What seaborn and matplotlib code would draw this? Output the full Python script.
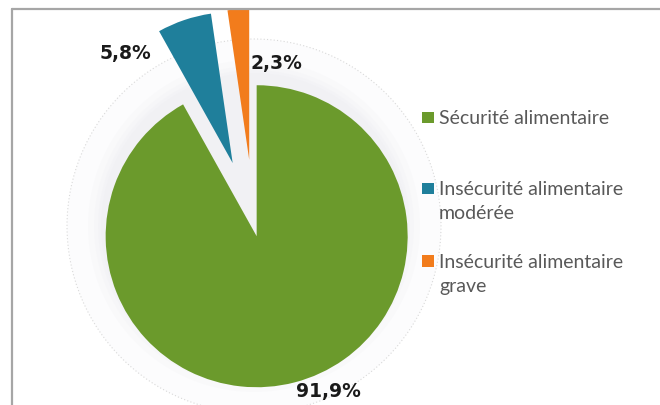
import matplotlib
matplotlib.use("Agg")
import matplotlib.pyplot as plt
import seaborn as sns
from matplotlib.patches import Circle, Rectangle
from matplotlib.lines import Line2D

# ---- data ----
categories = ["Sécurité alimentaire", "Insécurité alimentaire\nmodérée", "Insécurité alimentaire\ngrave"]
values = [91.9, 5.8, 2.3]
pct_labels = ["91,9%", "5,8%", "2,3%"]

# ---- style ----
sns.set_theme(style="white")
colors = sns.color_palette(["#6b9a2c", "#1f7f9b", "#f27c1c"])
W, H = 660, 406

fig = plt.figure(figsize=(W / 100, H / 100), dpi=100)
fig.patch.set_facecolor("white")
ax = fig.add_axes([0, 0, 1, 1])

cx, cy, R = 254, H - 227, 151
explode_frac = [0.07, 0.44, 0.44]

# soft halo + dotted ghost circle
ax.add_patch(Circle((cx, cy), 187, facecolor="#fcfcfd", edgecolor="#d9d9d9",
                    linestyle=(0, (1, 2)), linewidth=0.8, zorder=0))
for r in [166, 160, 156, 153]:
    ax.add_patch(Circle((cx, cy), r, facecolor="#e2e2e8", alpha=0.1,
                        edgecolor="none", zorder=0.2))

ax.pie(values, explode=[f * R for f in explode_frac], colors=colors, startangle=90,
       counterclock=False, center=(cx, cy), radius=R,
       wedgeprops=dict(linewidth=0), frame=False)

ax.set_xlim(0, W)
ax.set_ylim(0, H)
ax.set_aspect("equal")
ax.axis("off")

# percentage labels (layout positions, pixel coords from top-left)
label_pos = [(328, 392), (125, 54), (276, 64)]
for txt, (px, py) in zip(pct_labels, label_pos):
    ax.text(px, H - py, txt, ha="center", va="center", fontsize=13.5,
            fontweight="bold", color="#1a1a1a", family="DejaVu Sans")

# legend (manual, pixel layout)
leg_baselines = [124, 195, 267.5]
line_gap = 24.5
for cat, col, base in zip(categories, colors, leg_baselines):
    ax.add_patch(Rectangle((422, H - base), 12, 11.5, facecolor=col,
                           edgecolor="none"))
    for i, line in enumerate(cat.split("\n")):
        ax.text(439, H - (base + i * line_gap), line, ha="left", va="baseline",
                fontsize=14, color="#595959", family="Lato")

# frame (left and top edges visible)
fy = 1 - 10 / H
fx = 12 / W
fig.add_artist(Line2D([fx, 1], [fy, fy], transform=fig.transFigure,
                      color="#a6a6a6", linewidth=1.6))
fig.add_artist(Line2D([fx, fx], [0, fy], transform=fig.transFigure,
                      color="#a6a6a6", linewidth=1.6))

fig.savefig("out.png", dpi=100, facecolor="white")
